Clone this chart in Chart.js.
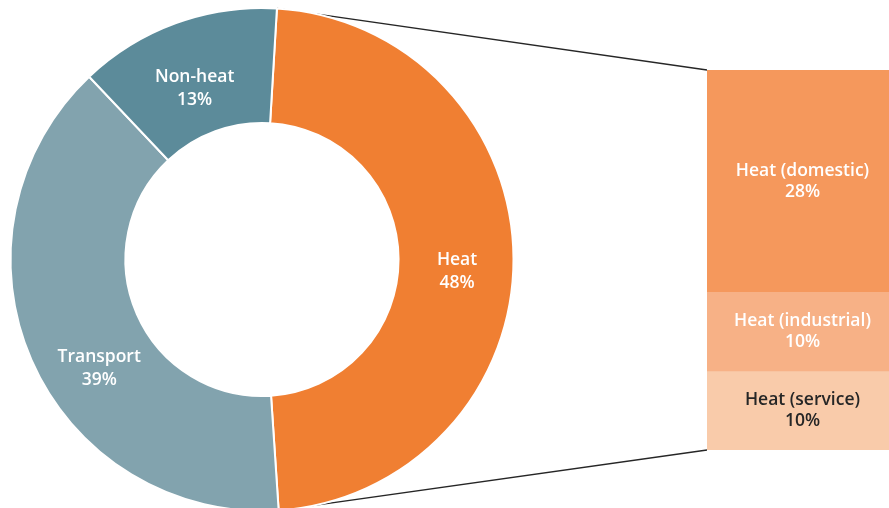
<!DOCTYPE html>
<html>
<head>
<meta charset="utf-8">
<script src="https://cdn.jsdelivr.net/npm/chart.js@4.4.1/dist/chart.umd.min.js"></script>
<style>
  html, body { margin: 0; padding: 0; background: #ffffff; }
  body { width: 889px; height: 508px; overflow: hidden; position: relative; }
  #dwrap { position: absolute; left: 0; top: 0; width: 889px; height: 520px; }
  #bwrap { position: absolute; left: 707px; top: 70px; width: 191px; height: 380px; }
</style>
</head>
<body>
<div id="dwrap"><canvas id="donut"></canvas></div>
<div id="bwrap"><canvas id="bar"></canvas></div>
<script>
// ---- data ----
const donutLabels = ['Heat', 'Transport', 'Non-heat'];
const donutValues = [48, 39, 13];
const donutColors = ['#F07F32', '#82A3AE', '#5C8B9A'];

const barLabels = ['Heat (domestic)', 'Heat (industrial)', 'Heat (service)'];
const barValues = [28, 10, 10];
const barColors = ['#F5985C', '#F7B186', '#F9CBAA'];
const barTextColors = ['#ffffff', '#ffffff', '#262626'];

const FONT = '"Open Sans", "DejaVu Sans", sans-serif';
const FONT_SIZE = 17.5;
const FONT_WEIGHT = '600';

// ---- bar (breakdown of heat) ----
const barChart = new Chart(document.getElementById('bar'), {
  type: 'bar',
  data: {
    labels: ['Heat'],
    datasets: barLabels.map((l, i) => ({
      label: l,
      data: [barValues[i]],
      backgroundColor: barColors[i],
      borderWidth: 0,
      barPercentage: 1,
      categoryPercentage: 1
    }))
  },
  options: {
    responsive: true,
    maintainAspectRatio: false,
    animation: false,
    events: [],
    layout: { padding: 0 },
    plugins: { legend: { display: false }, tooltip: { enabled: false } },
    scales: {
      x: { display: false, stacked: true },
      y: { display: false, stacked: true, reverse: true, min: 0, max: barValues.reduce((a, b) => a + b, 0) }
    }
  },
  plugins: [{
    id: 'barText',
    afterDatasetsDraw(chart) {
      const ctx = chart.ctx;
      ctx.save();
      ctx.font = FONT_WEIGHT + ' ' + FONT_SIZE + 'px ' + FONT;
      ctx.textAlign = 'center';
      ctx.textBaseline = 'middle';
      chart.data.datasets.forEach((ds, i) => {
        const el = chart.getDatasetMeta(i).data[0];
        const cy = (el.y + el.base) / 2;
        const cx = el.x;
        ctx.fillStyle = barTextColors[i];
        ctx.fillText(ds.label, cx, cy - 10);
        ctx.fillText(ds.data[0] + '%', cx, cy + 11);
      });
      ctx.restore();
    }
  }]
});

// ---- doughnut ----
const labelNudges = [[1, 12], [15, 31], [-1, 11]];

const donutChart = new Chart(document.getElementById('donut'), {
  type: 'doughnut',
  data: {
    labels: donutLabels,
    datasets: [{
      data: donutValues,
      backgroundColor: donutColors,
      borderColor: '#ffffff',
      borderWidth: 2,
      hoverBorderWidth: 2,
      hoverOffset: 0
    }]
  },
  options: {
    responsive: true,
    maintainAspectRatio: false,
    animation: false,
    events: [],
    rotation: 3.4,
    cutout: '54.3%',
    layout: { padding: { left: 9.5, top: 7, right: 374.5, bottom: 8 } },
    plugins: { legend: { display: false }, tooltip: { enabled: false } }
  },
  plugins: [{
    id: 'connectors',
    beforeDatasetsDraw(chart) {
      const arc = chart.getDatasetMeta(0).data[0];
      const r = arc.outerRadius;
      const p1 = [arc.x + r * Math.cos(arc.startAngle), arc.y + r * Math.sin(arc.startAngle)];
      const p2 = [arc.x + r * Math.cos(arc.endAngle), arc.y + r * Math.sin(arc.endAngle)];
      const bwrap = document.getElementById('bwrap');
      const offX = bwrap.offsetLeft, offY = bwrap.offsetTop;
      const bel = barChart.getDatasetMeta(0).data[0];
      const left = offX + bel.x - bel.width / 2;
      const top = offY + barChart.scales.y.getPixelForValue(0);
      const bottom = offY + barChart.scales.y.getPixelForValue(barChart.scales.y.max);
      const ctx = chart.ctx;
      ctx.save();
      ctx.strokeStyle = '#262626';
      ctx.lineWidth = 1.3;
      ctx.beginPath();
      ctx.moveTo(p1[0], p1[1]);
      ctx.lineTo(left, top);
      ctx.moveTo(p2[0], p2[1]);
      ctx.lineTo(left, bottom);
      ctx.stroke();
      ctx.restore();
    },
    afterDatasetsDraw(chart) {
      const ctx = chart.ctx;
      ctx.save();
      ctx.font = FONT_WEIGHT + ' ' + FONT_SIZE + 'px ' + FONT;
      ctx.textAlign = 'center';
      ctx.textBaseline = 'middle';
      ctx.fillStyle = '#ffffff';
      chart.getDatasetMeta(0).data.forEach((arc, i) => {
        const c = arc.getCenterPoint();
        const cx = c.x + labelNudges[i][0];
        const cy = c.y + labelNudges[i][1];
        ctx.fillText(donutLabels[i], cx, cy - 11);
        ctx.fillText(donutValues[i] + '%', cx, cy + 12);
      });
      ctx.restore();
    }
  }]
});
</script>
</body>
</html>
